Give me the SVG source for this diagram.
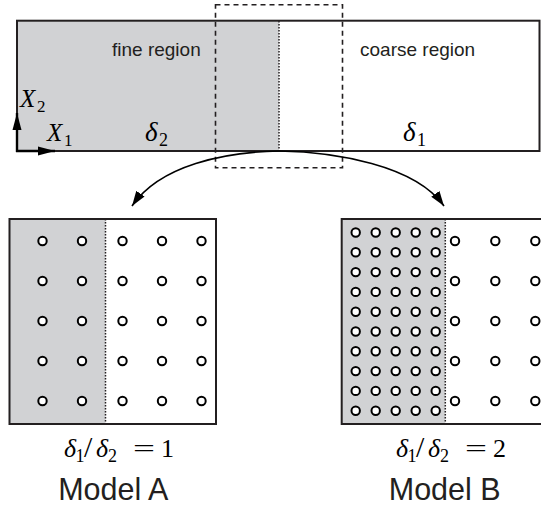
<svg xmlns="http://www.w3.org/2000/svg" width="541" height="508" viewBox="0 0 541 508">
<style>
.box{fill:none;stroke:#231f20;stroke-width:2}
.gray{fill:#d1d2d4;stroke:none}
.dot{stroke:#231f20;stroke-width:1.5;stroke-dasharray:1.5 1.5;fill:none}
.dash{fill:none;stroke:#231f20;stroke-width:1.6;stroke-dasharray:5 4}
.pt{fill:#fff;stroke:#000;stroke-width:2}
.sans{font-family:"Liberation Sans",Arial,sans-serif;fill:#231f20}
.math{font-family:"Liberation Serif","Times New Roman",serif;fill:#000}
.it{font-style:italic}
.conn{fill:none;stroke:#000;stroke-width:1.6}
.axis{fill:none;stroke:#000;stroke-width:2.4}
</style>
<defs>
<marker id="ah" markerUnits="userSpaceOnUse" markerWidth="16" markerHeight="12" refX="15" refY="5" orient="auto" viewBox="0 0 16 10">
<path d="M0,0 L15,5 L0,10 Z" fill="#000"/>
</marker>
<marker id="ax" markerUnits="userSpaceOnUse" markerWidth="18" markerHeight="10" refX="17" refY="4.5" orient="auto" viewBox="0 0 18 9">
<path d="M0,0 L17,4.5 L0,9 Z" fill="#000"/>
</marker>
</defs>

<g id="domain">
<rect class="gray" x="17" y="20.7" width="262" height="130.3"/>
<line class="dot" x1="279" y1="21" x2="279" y2="151"/>
<rect class="box" x="17" y="20.7" width="522.5" height="130.3"/>
<text class="sans" x="112" y="56" font-size="19">fine region</text>
<text class="sans" x="360" y="56" font-size="19">coarse region</text>
<text class="math" y="107"><tspan class="it" x="20" font-size="25">X</tspan><tspan x="37" y="112" font-size="17">2</tspan></text>
<text class="math" y="141"><tspan class="it" x="47" font-size="25">X</tspan><tspan x="64" y="146" font-size="17">1</tspan></text>
<text class="math" y="141"><tspan class="it" x="145" font-size="27">δ</tspan><tspan x="159" y="146" font-size="18">2</tspan></text>
<text class="math" y="141"><tspan class="it" x="403" font-size="27">δ</tspan><tspan x="417" y="146" font-size="18">1</tspan></text>
<line class="axis" x1="17" y1="152" x2="17" y2="113" marker-end="url(#ax)"/>
<line class="axis" x1="16" y1="151" x2="55" y2="151" marker-end="url(#ax)"/>
</g>

<g id="zoom-window">
<rect class="dash" x="215.5" y="4.8" width="127" height="163"/>
</g>

<g id="connectors">
<path class="conn" d="M279,151 C225,152 160,165 132,206" marker-end="url(#ah)"/>
<path class="conn" d="M279,151 C335,152 415,165 444,206" marker-end="url(#ah)"/>
</g>

<g id="modelA">
<rect class="gray" x="9.5" y="219" width="96" height="205"/>
<line class="dot" x1="105.5" y1="219" x2="105.5" y2="424"/>
<rect class="box" x="9.5" y="219" width="206.5" height="205"/>
<g>
<circle class="pt" cx="42.5" cy="241" r="4.2"/><circle class="pt" cx="82" cy="241" r="4.2"/><circle class="pt" cx="122.5" cy="241" r="4.2"/><circle class="pt" cx="162" cy="241" r="4.2"/><circle class="pt" cx="201.5" cy="241" r="4.2"/>
<circle class="pt" cx="42.5" cy="281" r="4.2"/><circle class="pt" cx="82" cy="281" r="4.2"/><circle class="pt" cx="122.5" cy="281" r="4.2"/><circle class="pt" cx="162" cy="281" r="4.2"/><circle class="pt" cx="201.5" cy="281" r="4.2"/>
<circle class="pt" cx="42.5" cy="321" r="4.2"/><circle class="pt" cx="82" cy="321" r="4.2"/><circle class="pt" cx="122.5" cy="321" r="4.2"/><circle class="pt" cx="162" cy="321" r="4.2"/><circle class="pt" cx="201.5" cy="321" r="4.2"/>
<circle class="pt" cx="42.5" cy="361" r="4.2"/><circle class="pt" cx="82" cy="361" r="4.2"/><circle class="pt" cx="122.5" cy="361" r="4.2"/><circle class="pt" cx="162" cy="361" r="4.2"/><circle class="pt" cx="201.5" cy="361" r="4.2"/>
<circle class="pt" cx="42.5" cy="401" r="4.2"/><circle class="pt" cx="82" cy="401" r="4.2"/><circle class="pt" cx="122.5" cy="401" r="4.2"/><circle class="pt" cx="162" cy="401" r="4.2"/><circle class="pt" cx="201.5" cy="401" r="4.2"/>
</g>
<text class="math" y="457" font-size="26"><tspan class="it" x="64">δ</tspan><tspan x="75.5" y="462" font-size="18">1</tspan><tspan x="84" y="457" font-size="30">/</tspan><tspan class="it" x="96">δ</tspan><tspan x="108" y="462" font-size="18">2</tspan><tspan x="133" y="457" textLength="22" lengthAdjust="spacingAndGlyphs">=</tspan><tspan x="161">1</tspan></text>
<text class="sans" x="113.3" y="500" font-size="30.5" text-anchor="middle">Model A</text>
</g>

<g id="modelB">
<rect class="gray" x="341.7" y="219" width="103.6" height="205"/>
<line class="dot" x1="445.3" y1="219" x2="445.3" y2="424"/>
<rect class="box" x="341.7" y="219" width="206.5" height="205"/>
<g>
<circle class="pt" cx="355.7" cy="232.5" r="4.2"/><circle class="pt" cx="375.7" cy="232.5" r="4.2"/><circle class="pt" cx="395.7" cy="232.5" r="4.2"/><circle class="pt" cx="415.7" cy="232.5" r="4.2"/><circle class="pt" cx="435.7" cy="232.5" r="4.2"/>
<circle class="pt" cx="355.7" cy="252.3" r="4.2"/><circle class="pt" cx="375.7" cy="252.3" r="4.2"/><circle class="pt" cx="395.7" cy="252.3" r="4.2"/><circle class="pt" cx="415.7" cy="252.3" r="4.2"/><circle class="pt" cx="435.7" cy="252.3" r="4.2"/>
<circle class="pt" cx="355.7" cy="272.1" r="4.2"/><circle class="pt" cx="375.7" cy="272.1" r="4.2"/><circle class="pt" cx="395.7" cy="272.1" r="4.2"/><circle class="pt" cx="415.7" cy="272.1" r="4.2"/><circle class="pt" cx="435.7" cy="272.1" r="4.2"/>
<circle class="pt" cx="355.7" cy="291.9" r="4.2"/><circle class="pt" cx="375.7" cy="291.9" r="4.2"/><circle class="pt" cx="395.7" cy="291.9" r="4.2"/><circle class="pt" cx="415.7" cy="291.9" r="4.2"/><circle class="pt" cx="435.7" cy="291.9" r="4.2"/>
<circle class="pt" cx="355.7" cy="311.7" r="4.2"/><circle class="pt" cx="375.7" cy="311.7" r="4.2"/><circle class="pt" cx="395.7" cy="311.7" r="4.2"/><circle class="pt" cx="415.7" cy="311.7" r="4.2"/><circle class="pt" cx="435.7" cy="311.7" r="4.2"/>
<circle class="pt" cx="355.7" cy="331.5" r="4.2"/><circle class="pt" cx="375.7" cy="331.5" r="4.2"/><circle class="pt" cx="395.7" cy="331.5" r="4.2"/><circle class="pt" cx="415.7" cy="331.5" r="4.2"/><circle class="pt" cx="435.7" cy="331.5" r="4.2"/>
<circle class="pt" cx="355.7" cy="351.3" r="4.2"/><circle class="pt" cx="375.7" cy="351.3" r="4.2"/><circle class="pt" cx="395.7" cy="351.3" r="4.2"/><circle class="pt" cx="415.7" cy="351.3" r="4.2"/><circle class="pt" cx="435.7" cy="351.3" r="4.2"/>
<circle class="pt" cx="355.7" cy="371.1" r="4.2"/><circle class="pt" cx="375.7" cy="371.1" r="4.2"/><circle class="pt" cx="395.7" cy="371.1" r="4.2"/><circle class="pt" cx="415.7" cy="371.1" r="4.2"/><circle class="pt" cx="435.7" cy="371.1" r="4.2"/>
<circle class="pt" cx="355.7" cy="390.9" r="4.2"/><circle class="pt" cx="375.7" cy="390.9" r="4.2"/><circle class="pt" cx="395.7" cy="390.9" r="4.2"/><circle class="pt" cx="415.7" cy="390.9" r="4.2"/><circle class="pt" cx="435.7" cy="390.9" r="4.2"/>
<circle class="pt" cx="355.7" cy="410.7" r="4.2"/><circle class="pt" cx="375.7" cy="410.7" r="4.2"/><circle class="pt" cx="395.7" cy="410.7" r="4.2"/><circle class="pt" cx="415.7" cy="410.7" r="4.2"/><circle class="pt" cx="435.7" cy="410.7" r="4.2"/>
<circle class="pt" cx="455" cy="241" r="4.2"/><circle class="pt" cx="495.3" cy="241" r="4.2"/><circle class="pt" cx="535.3" cy="241" r="4.2"/>
<circle class="pt" cx="455" cy="281" r="4.2"/><circle class="pt" cx="495.3" cy="281" r="4.2"/><circle class="pt" cx="535.3" cy="281" r="4.2"/>
<circle class="pt" cx="455" cy="321" r="4.2"/><circle class="pt" cx="495.3" cy="321" r="4.2"/><circle class="pt" cx="535.3" cy="321" r="4.2"/>
<circle class="pt" cx="455" cy="361" r="4.2"/><circle class="pt" cx="495.3" cy="361" r="4.2"/><circle class="pt" cx="535.3" cy="361" r="4.2"/>
<circle class="pt" cx="455" cy="401" r="4.2"/><circle class="pt" cx="495.3" cy="401" r="4.2"/><circle class="pt" cx="535.3" cy="401" r="4.2"/>
</g>
<text class="math" y="457" font-size="26"><tspan class="it" x="396">δ</tspan><tspan x="407.5" y="462" font-size="18">1</tspan><tspan x="416" y="457" font-size="30">/</tspan><tspan class="it" x="428">δ</tspan><tspan x="440" y="462" font-size="18">2</tspan><tspan x="465" y="457" textLength="22" lengthAdjust="spacingAndGlyphs">=</tspan><tspan x="493">2</tspan></text>
<text class="sans" x="444.7" y="500" font-size="30.5" text-anchor="middle">Model B</text>
</g>
</svg>
